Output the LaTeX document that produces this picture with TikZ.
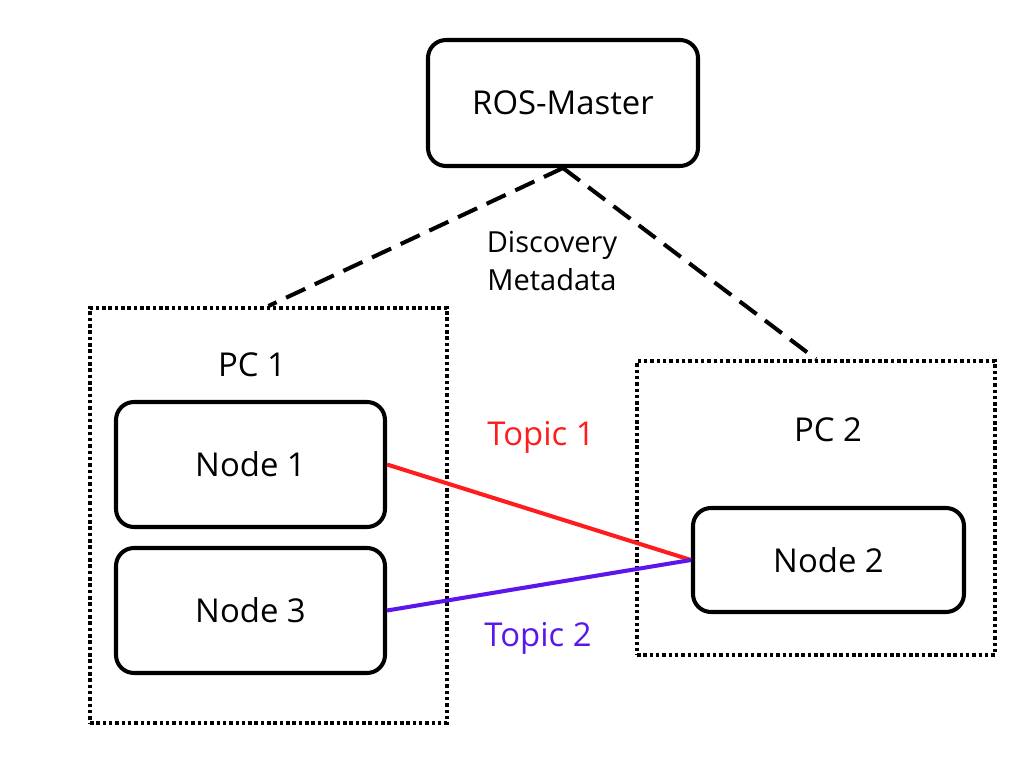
\documentclass[tikz,border=0pt]{standalone}
\usepackage{fontspec}
\setmainfont{Open Sans}
\usepackage{tikz}
\usetikzlibrary{arrows.meta,positioning,calc}

\definecolor{topicred}{HTML}{FF1C1C}
\definecolor{topicviolet}{HTML}{5B17EB}

\tikzset{
  rosbox/.style={draw, line width=2.3pt, rounded corners=0.36cm, inner sep=0pt,
    font=\fontsize{18.7}{22}\selectfont},
  pcbox/.style={draw, line width=2.3pt, dash pattern=on 2pt off 1.6pt, inner sep=0pt},
  disco/.style={line width=2.3pt, dash pattern=on 12pt off 6pt},
  label/.style={font=\fontsize{18.7}{22}\selectfont},
}

\begin{document}
\begin{tikzpicture}
\useasboundingbox (0,0) rectangle (20.48,-15.36);

\node[rosbox, minimum width=5.4cm, minimum height=2.52cm] (master) at (11.26,-2.06) {ROS-Master};

\node[pcbox, minimum width=7.14cm, minimum height=8.3cm] (pcA) at (5.37,-10.31) {};
\node[pcbox, minimum width=7.16cm, minimum height=5.88cm] (pcB) at (16.32,-10.16) {};

\node[label] (pcAlabel) at (5.04,-7.3) {PC 1};
\node[label] (pcBlabel) at (16.56,-8.6) {PC 2};

\node[rosbox, minimum width=5.38cm, minimum height=2.5cm] (nodeA) at (5.01,-9.29) {Node 1};
\node[rosbox, minimum width=5.38cm, minimum height=2.5cm] (nodeC) at (5.01,-12.21) {Node 3};
\node[rosbox, minimum width=5.42cm, minimum height=2.08cm] (nodeB) at (16.57,-11.2) {Node 2};

% discovery links to the master
\draw[disco] (master.south) -- (pcA.north);
\draw[disco] (master.south) -- (pcB.north);
\node[align=center, font=\fontsize{16.5}{21.5}\selectfont] (meta) at (11.04,-5.22) {Discovery\\Metadata};

% topics
\draw[topicred, line width=2.3pt] (nodeA.east) -- (nodeB.west);
\draw[topicviolet, line width=2.3pt] (nodeC.east) -- (nodeB.west);
\node[label, text=topicred] (topicA) at (10.82,-8.74) {Topic 1};
\node[label, text=topicviolet] (topicB) at (10.76,-12.76) {Topic 2};
\end{tikzpicture}
\end{document}
